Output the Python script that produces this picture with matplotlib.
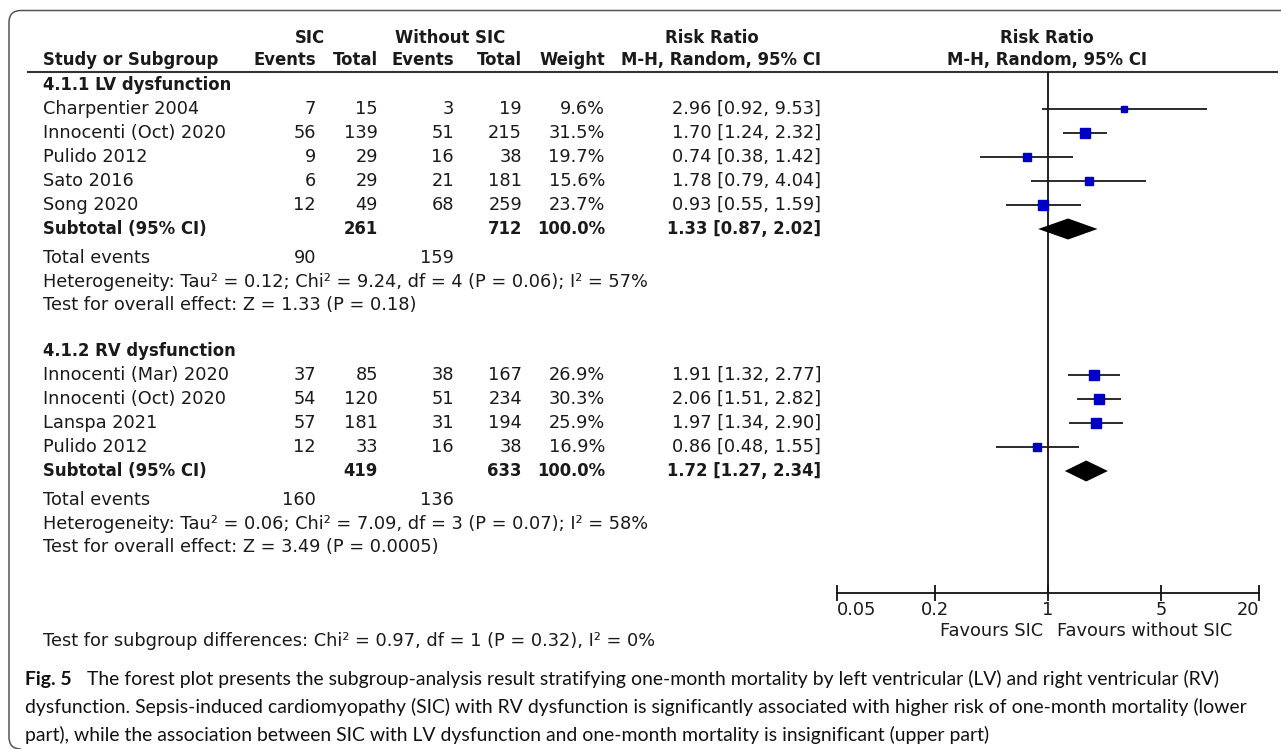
import numpy as np
import matplotlib
matplotlib.use("Agg")
import matplotlib.pyplot as plt
from matplotlib.path import Path
from matplotlib.patches import PathPatch

# ---- data ----
lv_studies = ["Charpentier 2004", "Innocenti (Oct) 2020", "Pulido 2012", "Sato 2016", "Song 2020"]
lv_sic_events = [7, 56, 9, 6, 12]
lv_sic_total = [15, 139, 29, 29, 49]
lv_ctl_events = [3, 51, 16, 21, 68]
lv_ctl_total = [19, 215, 38, 181, 259]
lv_weight = [9.6, 31.5, 19.7, 15.6, 23.7]
lv_rr = [2.96, 1.70, 0.74, 1.78, 0.93]
lv_lo = [0.92, 1.24, 0.38, 0.79, 0.55]
lv_hi = [9.53, 2.32, 1.42, 4.04, 1.59]
lv_subtotal = [1.33, 0.87, 2.02]
lv_totals = [261, 712]
lv_total_events = [90, 159]
lv_het = "Heterogeneity: Tau² = 0.12; Chi² = 9.24, df = 4 (P = 0.06); I² = 57%"
lv_effect = "Test for overall effect: Z = 1.33 (P = 0.18)"

rv_studies = ["Innocenti (Mar) 2020", "Innocenti (Oct) 2020", "Lanspa 2021", "Pulido 2012"]
rv_sic_events = [37, 54, 57, 12]
rv_sic_total = [85, 120, 181, 33]
rv_ctl_events = [38, 51, 31, 16]
rv_ctl_total = [167, 234, 194, 38]
rv_weight = [26.9, 30.3, 25.9, 16.9]
rv_rr = [1.91, 2.06, 1.97, 0.86]
rv_lo = [1.32, 1.51, 1.34, 0.48]
rv_hi = [2.77, 2.82, 2.90, 1.55]
rv_subtotal = [1.72, 1.27, 2.34]
rv_totals = [419, 633]
rv_total_events = [160, 136]
rv_het = "Heterogeneity: Tau² = 0.06; Chi² = 7.09, df = 3 (P = 0.07); I² = 58%"
rv_effect = "Test for overall effect: Z = 3.49 (P = 0.0005)"

groups = [
    ("4.1.1 LV dysfunction", lv_studies, lv_sic_events, lv_sic_total, lv_ctl_events, lv_ctl_total,
     lv_weight, lv_rr, lv_lo, lv_hi, lv_subtotal, lv_totals, lv_total_events, lv_het, lv_effect),
    ("4.1.2 RV dysfunction", rv_studies, rv_sic_events, rv_sic_total, rv_ctl_events, rv_ctl_total,
     rv_weight, rv_rr, rv_lo, rv_hi, rv_subtotal, rv_totals, rv_total_events, rv_het, rv_effect),
]
group_top = [85, 351]

ticks = [0.05, 0.2, 1, 5, 20]
tick_labels = ["0.05", "0.2", "1", "5", "20"]
subgroup_test = "Test for subgroup differences: Chi² = 0.97, df = 1 (P = 0.32), I² = 0%"
caption_bold = "Fig. 5"
caption_lines = [
    "The forest plot presents the subgroup-analysis result stratifying one-month mortality by left ventricular (LV) and right ventricular (RV)",
    "dysfunction. Sepsis-induced cardiomyopathy (SIC) with RV dysfunction is significantly associated with higher risk of one-month mortality (lower",
    "part), while the association between SIC with LV dysfunction and one-month mortality is insignificant (upper part)",
]

plt.rcParams["font.family"] = ["DejaVu Sans"]

W, H = 1281, 749
FS = 12.75     # regular table text
FSB = 11.9     # bold table text
TXT = "#1a1a1a"
BLUE = "#0000c4"

fig = plt.figure(figsize=(W / 100, H / 100), dpi=100)
bg = fig.add_axes([0, 0, 1, 1])
bg.set_xlim(0, W)
bg.set_ylim(H, 0)
bg.axis("off")

# border: top + left with rounded corners
verts = [(W, 10.5), (21, 10.5), (9, 10.5), (9, 22.5), (9, 737), (9, 749), (21, 749)]
codes = [Path.MOVETO, Path.LINETO, Path.CURVE3, Path.CURVE3, Path.LINETO, Path.CURVE3, Path.CURVE3]
bg.add_patch(PathPatch(Path(verts, codes), fill=False, ec="#555555", lw=1.1))
bg.plot([28, 1277], [72, 72], color="#333333", lw=1.5)


def t(x, y, s, ha="left", bold=False):
    bg.text(x, y, s, ha=ha, va="center", fontsize=FSB if bold else FS, color=TXT,
            fontweight="bold" if bold else "normal")


# column right edges
c_ev1, c_tot1, c_ev2, c_tot2, c_w, c_rr = 316, 378, 454, 522, 605, 821
x_name = 43

t(310, 38, "SIC", ha="center", bold=True)
t(450, 38, "Without SIC", ha="center", bold=True)
t(712, 38, "Risk Ratio", ha="center", bold=True)
t(1047, 38, "Risk Ratio", ha="center", bold=True)
t(x_name, 60, "Study or Subgroup", bold=True)
t(c_ev1, 60, "Events", ha="right", bold=True)
t(c_tot1, 60, "Total", ha="right", bold=True)
t(c_ev2, 60, "Events", ha="right", bold=True)
t(c_tot2, 60, "Total", ha="right", bold=True)
t(c_w, 60, "Weight", ha="right", bold=True)
t(c_rr, 60, "M-H, Random, 95% CI", ha="right", bold=True)
t(1047, 60, "M-H, Random, 95% CI", ha="center", bold=True)

# forest axes on log scale
fx0, fx1, fy0, fy1 = 837, 1259, 72, 593
ax = fig.add_axes([fx0 / W, 1 - fy1 / H, (fx1 - fx0) / W, (fy1 - fy0) / H])
ax.set_xscale("log")
ax.set_xlim(0.05, 20)
ax.set_ylim(fy1, fy0)
ax.patch.set_alpha(0)
for side in ["top", "left", "right"]:
    ax.spines[side].set_visible(False)
ax.spines["bottom"].set_linewidth(1.3)
ax.spines["bottom"].set_color("#111111")
ax.set_yticks([])
ax.set_xticks(ticks)
ax.set_xticklabels(tick_labels)
ax.xaxis.set_minor_locator(matplotlib.ticker.NullLocator())
ax.tick_params(axis="x", direction="inout", length=12, width=1.3, color="#111111",
               labelsize=FS, labelcolor=TXT, pad=0)
labs = ax.get_xticklabels()
labs[0].set_ha("left")
labs[-1].set_ha("right")
ax.axvline(1, color="#111111", lw=1.3)

for g, y0 in zip(groups, group_top):
    (title, names, e1, n1, e2, n2, w, rr, lo, hi, sub, tots, tev, het, eff) = g
    t(x_name, y0, title, bold=True)
    ys = [y0 + 24 + 24 * i for i in range(len(names))]
    for i, y in enumerate(ys):
        t(x_name, y, names[i])
        t(c_ev1, y, str(e1[i]), ha="right")
        t(c_tot1, y, str(n1[i]), ha="right")
        t(c_ev2, y, str(e2[i]), ha="right")
        t(c_tot2, y, str(n2[i]), ha="right")
        t(c_w, y, f"{w[i]:.1f}%", ha="right")
        t(c_rr, y, f"{rr[i]:.2f} [{lo[i]:.2f}, {hi[i]:.2f}]", ha="right")
    ax.hlines(ys, lo, hi, color="#1a1a1a", lw=1.3, zorder=2)
    for i, y in enumerate(ys):
        ax.plot(rr[i], y, marker="s", ms=1.9 * np.sqrt(w[i]) * 0.72, color=BLUE,
                mec=BLUE, zorder=3)
    ysub = y0 + 24 + 24 * len(names)
    t(x_name, ysub, "Subtotal (95% CI)", bold=True)
    t(c_tot1, ysub, str(tots[0]), ha="right", bold=True)
    t(c_tot2, ysub, str(tots[1]), ha="right", bold=True)
    t(c_w, ysub, "100.0%", ha="right", bold=True)
    t(c_rr, ysub, f"{sub[0]:.2f} [{sub[1]:.2f}, {sub[2]:.2f}]", ha="right", bold=True)
    ax.fill([sub[1], sub[0], sub[2], sub[0]], [ysub, ysub - 10.5, ysub, ysub + 10.5],
            color="black", lw=0, zorder=3)
    t(x_name, ysub + 29, "Total events")
    t(c_ev1, ysub + 29, str(tev[0]), ha="right")
    t(c_ev2, ysub + 29, str(tev[1]), ha="right")
    t(x_name, ysub + 53, het)
    t(x_name, ysub + 76, eff)

t(1043, 631, "Favours SIC", ha="right")
t(1057, 631, "Favours without SIC", ha="left")
t(x_name, 641, subgroup_test)

CF = 13.95
cap = dict(ha="left", va="center", fontsize=CF, family="Lato", color="#111111")
bg.text(25, 679, caption_bold, fontweight="bold", **cap)
bg.text(87, 679, caption_lines[0], **cap)
bg.text(25, 707, caption_lines[1], **cap)
bg.text(25, 735, caption_lines[2], **cap)

fig.savefig("out.png", dpi=100)
